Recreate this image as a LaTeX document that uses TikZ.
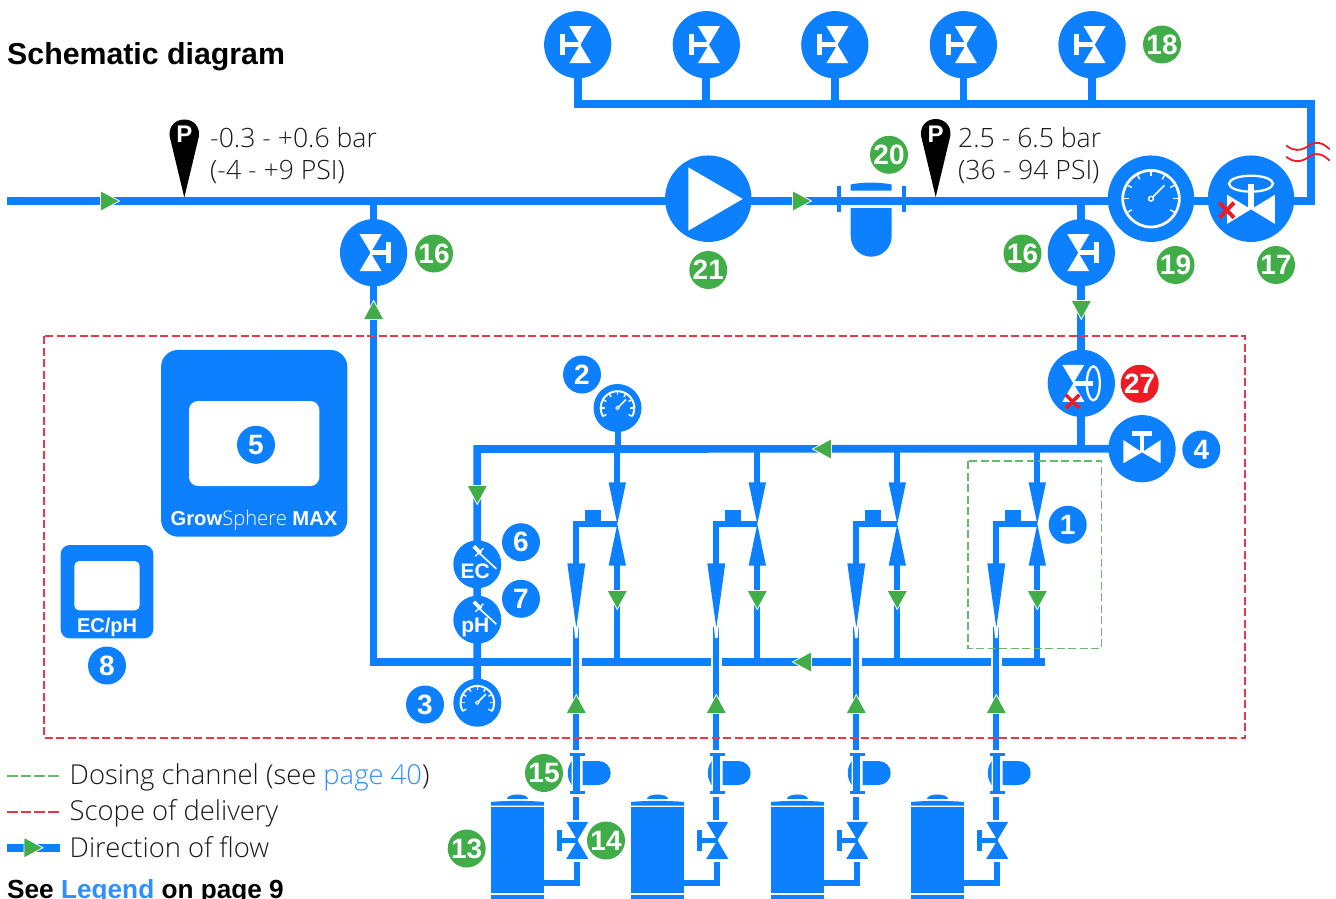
\documentclass[tikz,border=0pt]{standalone}
\usepackage{fontspec}
\setmainfont{Liberation Sans}
\newfontfamily\lightf{Open Sans Light}
\usetikzlibrary{backgrounds}
\definecolor{pblue}{HTML}{0D80FF}
\definecolor{lblue}{HTML}{2E8FFF}
\definecolor{fgreen}{HTML}{41AD49}
\definecolor{dgreen}{HTML}{66BB6A}
\definecolor{xred}{HTML}{ED1C24}
\definecolor{dred}{HTML}{E8394A}
\definecolor{ink}{HTML}{1A1A1A}
\tikzset{
  pipe/.style={draw=pblue,line width=7.7pt},
  thinpipe/.style={draw=pblue,line width=6pt},
  vcirc/.style={circle,fill=pblue,inner sep=0pt,minimum size=67.2pt},
  bigcirc/.style={circle,fill=pblue,inner sep=0pt,minimum size=86.5pt},
  smallcirc/.style={circle,fill=pblue,inner sep=0pt,minimum size=48pt},
  badge/.style={circle,inner sep=0pt,minimum size=38pt,text=white,font=\bfseries\fontsize{28}{28}\selectfont},
  gbadge/.style={badge,fill=fgreen},
  bbadge/.style={badge,fill=pblue},
  rbadge/.style={badge,fill=xred},
  flowarrow/.style={fill=fgreen,draw=white,line width=.8pt,miter limit=10},
  lighttext/.style={anchor=base west,inner sep=0pt,text=ink,font=\lightf\fontsize{26.6}{26.6}\selectfont},
  legtext/.style={anchor=base west,inner sep=0pt,text=ink,font=\lightf\fontsize{27.4}{27.4}\selectfont},
  boldtext/.style={anchor=base west,inner sep=0pt,text=black,font=\bfseries\fontsize{30.3}{30.3}\selectfont},
  scopebox/.style={draw=dred,line width=1.2pt,dash pattern=on 8pt off 3.5pt},
  dosebox/.style={draw=dgreen,line width=1.2pt,dash pattern=on 8pt off 3.5pt},
  xmark/.style={draw=xred,line width=4pt},
  breakmark/.style={draw=xred,line width=1.8pt,line cap=round},
}
% hourglass valve, centred on the current origin; #1 colour
\newcommand\hourglass[1]{%
  \fill[#1] (-11,-18.5)--(11,-18.5)--(0,0)--(11,18.5)--(-11,18.5)--(0,0)--cycle;}
\newcommand\handvalve[3]{% place, xscale, colour
  \begin{scope}[shift={(#1)},xscale=#2]
    \hourglass{#3}
    \fill[#3] (-20.3,-10.3) rectangle (-15.3,10.3);
    \fill[#3] (-15.3,-2.3) rectangle (0.5,2.3);
  \end{scope}}
\newcommand\flowmark[2]{\path[flowarrow,shift={(#1)},rotate=#2] (-9.5,-10.3)--(9.5,0)--(-9.5,10.3)--cycle;}
\newcommand\dialticks[4]{% place, ring radius, tick length, needle length
  \begin{scope}[shift={(#1)}]
    \foreach \a in {-30,0,...,210}
      \draw[white,line width=1.4pt] (-\a:#2) -- (-\a:#2-#3);
    \draw[white,line width=1.5pt] (0,0) -- (-45:#4) ;
  \end{scope}}
\begin{document}
\begin{tikzpicture}[x=1pt,y=-1pt]
\useasboundingbox (0,0) rectangle (1336,899);

% ---------- legend key lines
\coordinate (lg3a) at (7,847.7); \coordinate (lg3b) at (60,847.7);
\foreach \dx in {7,20.7,34.4,48.1}{
  \fill[dgreen] (\dx,775) rectangle (\dx+10.5,776.5);
  \fill[dred] (\dx,811) rectangle (\dx+10.5,812.5);
}

% ---------- nodes
\foreach \n/\x in {a/577.7,b/706.3,c/834.8,d/963.4,e/1092}
  \node[vcirc] (top\n) at (\x,44.7) {};
\node[bigcirc] (pump) at (708.3,198.7) {};
\node[bigcirc] (dial19) at (1151,198.7) {};
\node[bigcirc] (v17) at (1251,198.7) {};
\node[vcirc] (v16a) at (373.6,252.7) {};
\node[vcirc] (v16b) at (1081.3,252.7) {};
\node[vcirc] (v27) at (1081.3,383.3) {};
\node[vcirc] (v4) at (1142,448.7) {};
\node[smallcirc] (g2) at (617.5,408) {};
\node[smallcirc] (g3) at (477.3,702.7) {};
\node[smallcirc] (ec) at (477.3,564.3) {};
\node[smallcirc] (ph) at (477.3,619.7) {};
\coordinate (inlet) at (7,201);
\coordinate (mainE) at (1311,201);
\coordinate (topE) at (1311,104);
\coordinate (hdrL) at (477.3,449);
\coordinate (retL) at (373.6,661.7);
\coordinate (retR) at (1045,661.7);

% ---------- pipes
\begin{pgfonlayer}{background}
  \draw[pipe] (inlet) -- (mainE) -- (topE) -- (topa |- topE) -- (topa.center);
  \foreach \n in {b,c,d,e} \draw[pipe] (top\n.center) -- (top\n |- topE);
  \draw[pipe] (v16a |- inlet) -- (v16a.center) -- (retL) -- (retR);
  \draw[pipe] (v16b |- inlet) -- (v16b.center) -- (v27.center) -- (v27 |- hdrL);
  \draw[pipe] (v4.center) -- (hdrL) -- (g3.center);
  \draw[thinpipe] (g2.center) -- (g2 |- hdrL);
\end{pgfonlayer}

% ---------- four dosing channels
\foreach \i in {0,1,2,3}{
\begin{scope}[xshift=140*\i pt]
  \coordinate (hd\i) at (617.3,449);
  \coordinate (vu\i) at (617.3,484);
  \coordinate (vt\i) at (617.3,524);
  \coordinate (vl\i) at (617.3,564);
  \coordinate (rt\i) at (617.3,661.7);
  \coordinate (sd\i) at (576.3,524);
  \coordinate (se\i) at (576.3,565);
  \coordinate (sb\i) at (576.3,796.7);
  \coordinate (sf\i) at (576.3,750);
  \coordinate (sc\i) at (576.3,627);
  \node[fill=pblue,inner sep=0pt,minimum width=53pt,minimum height=86pt] (tank\i) at (517.5,850.3) {};
  \coordinate (mv\i) at (577.3,840.3);
  \coordinate (el\i) at (577.3,882.7);
  \coordinate (me\i) at (577.3,861.7);
  \begin{pgfonlayer}{background}
    \draw[thinpipe] (hd\i) -- (vu\i);
    \draw[thinpipe] (vl\i) -- (rt\i);
    \draw[thinpipe] (vt\i) -- (sd\i) -- (se\i);
    \fill[white] (571.3,656) rectangle (582.3,667);
    \draw[thinpipe] (sc\i) -- (sf\i);
    \draw[thinpipe] (sf\i |- 0,796.7) -- (sf\i |- 0,820);
    \draw[thinpipe] (tank\i.east |- el\i) -- (el\i) -- (me\i);
  \end{pgfonlayer}
  % venturi
  \fill[pblue] (608.6,482.3)--(626,482.3)--(vt\i)--cycle;
  \fill[pblue] (608.6,565.7)--(626,565.7)--(vt\i)--cycle;
  \fill[pblue] (585,510) rectangle (601,521.5);
  \fill[pblue] (567.3,563.3)--(585.3,563.3)--(576.3,628)--cycle;
  \fill[white] (574,626.5)--(578.6,626.5)--(577.6,638)--(575,638)--cycle;
  \flowmark{617.3,600}{-90}
  \flowmark{576.3,704}{90}
  % filter on the dosing line
  \fill[pblue] (573.3,753) rectangle (579.9,793);
  \fill[pblue] (570,753) rectangle (585,755.7);
  \fill[pblue] (570,791) rectangle (585,793.7);
  \fill[pblue] (582.7,761) -- (598.7,761) arc[start angle=90,end angle=-90,radius=12pt] -- (582.7,785) -- cycle;
  \fill[pblue] (571.7,761) .. controls (566.5,768) and (566.5,778) .. (571.7,785) -- cycle;
  % dosing valve
  \handvalve{mv\i}{1}{pblue}
  % tank
  \fill[white] (491,805.2) rectangle (544,807.3);
  \fill[pblue] (491,805.5) -- (491,802) .. controls (505,800.5) and (530,800.5) .. (544,802) -- (544,805.5) -- cycle;
  \fill[pblue] (506.7,799.3) .. controls (506.7,793) and (528.3,793) .. (528.3,799.3) -- cycle;
  \fill[white] (491,893.3) rectangle (544,895);
  \fill[pblue] (491,895) rectangle (544,899);
\end{scope}
}

% ---------- top valves
\foreach \n in {a,b,c,d,e}{
  \begin{scope}[shift={(top\n.center)}]\handvalve{2.6,0}{1}{white}\end{scope}
}
% 16 valves
\begin{scope}[shift={(v16a.center)}]\handvalve{-3,0}{-1}{white}\end{scope}
\begin{scope}[shift={(v16b.center)}]\handvalve{-3,0}{-1}{white}\end{scope}

% pump
\fill[white] (688.3,167.3)--(742.7,199)--(688.3,230.7)--cycle;

% filter 20
\fill[pblue] (837.3,185.7) rectangle (841.3,212);
\fill[pblue] (902,185.7) rectangle (906,212);
\fill[pblue] (850.7,190.7) -- (850.7,184.5) .. controls (862,182) and (880,182) .. (891.7,184.5) -- (891.7,190.7) -- cycle;
\fill[pblue] (850.7,208) -- (891.7,208) -- (891.7,236.2) arc[start angle=0,end angle=-180,radius=20.5pt] -- cycle;

% pressure pins
\node[inner sep=0pt,text=white,font=\bfseries\fontsize{24}{24}\selectfont] (pin1) at (184.3,134.5) {P};
\node[inner sep=0pt,text=white,font=\bfseries\fontsize{24}{24}\selectfont] (pin2) at (935.7,134) {P};
\begin{pgfonlayer}{background}
\foreach \p in {pin1,pin2}{
  \begin{scope}[shift={(\p.center)}]
  \fill[black] (0,63) -- (-14.6,2) .. controls (-16,-8) and (-9,-15) .. (0,-15)
     .. controls (9,-15) and (16,-8) .. (14.6,2) -- cycle;
  \end{scope}
}
\end{pgfonlayer}
\node[lighttext] (p1a) at (210,147) {-0.3 - +0.6 bar};
\node[lighttext] (p1b) at (210,179) {(-4 - +9 PSI)};
\node[lighttext] (p2a) at (958,147) {2.5 - 6.5 bar};
\node[lighttext] (p2b) at (958,179) {(36 - 94 PSI)};

% big dial 19
\draw[white,line width=2.7pt] (dial19.center) circle[radius=28.3pt];
\dialticks{dial19.center}{28.3}{6}{19}
\draw[white,line width=1.4pt,fill=pblue] (dial19.center) circle[radius=2.4pt];

% valve 17
\begin{scope}[shift={(v17.center)}]
  \fill[white] (0,10.6)--(-23.8,-3.9)--(-23.8,25.1)--cycle;
  \fill[white] (0,10.6)--(23.8,-3.9)--(23.8,25.1)--cycle;
  \fill[white] (-2.6,-15) rectangle (2.6,10.6);
  \draw[white,line width=2.3pt] (0,-15) ellipse[x radius=22pt,y radius=8pt];
  \draw[xmark] (-31.5,4) -- (-17,19) (-17,4) -- (-31.5,19);
\end{scope}

% valve 27
\begin{scope}[shift={(v27.center)}]
  \begin{scope}[shift={(-8,0)}]\hourglass{white}\end{scope}
  \fill[white] (-8,-2.4) rectangle (12,2.4);
  \draw[white,line width=2.3pt] (12,0) ellipse[x radius=6.5pt,y radius=17pt];
  \draw[xmark,line width=3.4pt] (-15.5,11.5) -- (-2,25) (-2,11.5) -- (-15.5,25);
\end{scope}

% valve 4
\begin{scope}[shift={(v4.center)}]
  \fill[white] (0,3.6)--(-18.7,-8.7)--(-18.7,14.6)--cycle;
  \fill[white] (0,3.6)--(18.7,-8.7)--(18.7,14.6)--cycle;
  \fill[white] (-2.3,-14) rectangle (2.3,3.6);
  \fill[white] (-10,-17.7) rectangle (10,-12.7);
\end{scope}

% small dials
\begin{scope}[shift={(g2.center)}]
  \draw[white,line width=2pt,y=1pt] (-30:16.8) arc[start angle=-30,end angle=210,radius=16.8pt];
\end{scope}
\begin{scope}[shift={(g3.center)}]
  \draw[white,line width=2pt,y=1pt] (-30:16.8) arc[start angle=-30,end angle=210,radius=16.8pt];
\end{scope}
\dialticks{g2.center}{16.8}{4}{12}
\dialticks{g3.center}{16.8}{4}{12}
\draw[white,line width=1pt,fill=pblue] (g2.center) circle[radius=1.7pt];
\draw[white,line width=1pt,fill=pblue] (g3.center) circle[radius=1.7pt];

% sensors
\foreach \s/\t/\dy in {ec/EC/7,ph/pH/7.7}{
  \begin{scope}[shift={(\s.center)}]
    \draw[white,line width=1.6pt] (-1,-14) -- (19,4.5);
    \draw[white,line width=3.6pt] (-3.5,-18) -- (3.5,-11);
    \draw[white,line width=1.4pt] (-2,-8) -- (6,-16);
    \node[inner sep=0pt,text=white,font=\bfseries\fontsize{21}{21}\selectfont] (lab\s) at (-2,\dy) {\t};
  \end{scope}
}

% controllers
\node[fill=pblue,rounded corners=17pt,inner sep=0pt,minimum width=186.3pt,minimum height=186.7pt] (ctrl) at (254.2,443.3) {};
\node[fill=white,rounded corners=9pt,inner sep=0pt,minimum width=130.3pt,minimum height=85pt] (scr) at (254.2,443.5) {};
\node[anchor=base,inner sep=0pt,text=white,font=\fontsize{20.2}{20.2}\selectfont] (brand) at (254,525) {\textbf{Grow}{\lightf Sphere} \textbf{MAX}};
\node[fill=pblue,rounded corners=9pt,inner sep=0pt,minimum width=92.6pt,minimum height=93.3pt] (ecbox) at (107,591.7) {};
\node[fill=white,rounded corners=5pt,inner sep=0pt,minimum width=65.4pt,minimum height=49.3pt] (ecscr) at (107,585.7) {};
\node[anchor=base,inner sep=0pt,text=white,font=\bfseries\fontsize{20}{20}\selectfont] (eclab) at (107,632) {EC/pH};

% dashed frames
\draw[scopebox] (44,336) rectangle (1245,738);
\draw[dosebox] (968,461) rectangle (1101.3,648.5);

% flow arrows
\flowmark{110,201}{0}
\flowmark{802,201}{0}
\flowmark{373.6,310}{90}
\flowmark{1081.3,310}{-90}
\flowmark{822,449}{180}
\flowmark{477.3,495}{-90}
\flowmark{802,662}{180}

% break marks
\foreach \d in {0,11.3}{
  \draw[breakmark] (1286.7,145.7+\d) .. controls (1293,151+\d) and (1300,151+\d) .. (1306,147.5+\d) .. controls (1313,142+\d) and (1320,140+\d) .. (1329.3,149+\d);
}

% badges
\node[gbadge] (n18) at (1162,44.5) {18};
\node[gbadge] (n16a) at (434,253.5) {16};
\node[gbadge] (n16b) at (1022.5,253.5) {16};
\node[gbadge] (n20) at (889,154.8) {20};
\node[gbadge] (n19) at (1175.5,265) {19};
\node[gbadge] (n17) at (1276,265) {17};
\node[gbadge] (n21) at (708.3,270) {21};
\node[gbadge] (n15) at (544,773) {15};
\node[gbadge] (n14) at (606,840.5) {14};
\node[gbadge] (n13) at (466.7,848.5) {13};
\node[rbadge] (n27) at (1139.7,383.8) {27};
\node[bbadge] (n4) at (1201.3,449.5) {4};
\node[bbadge] (n1) at (1067.7,524.8) {1};
\node[bbadge] (n2) at (582,374.5) {2};
\node[bbadge] (n3) at (425,704.5) {3};
\node[bbadge] (n6) at (521,542.2) {6};
\node[bbadge] (n7) at (521,598.8) {7};
\node[bbadge] (n5) at (256,444.8) {5};
\node[bbadge] (n8) at (107,665.5) {8};

% title and legend
\node[boldtext] (title) at (7,65) {Schematic diagram};
\draw[pipe] (lg3a) -- (lg3b);
\flowmark{33.5,847.7}{0}
\node[legtext] (t1) at (69.5,784) {Dosing channel (see \textcolor{lblue}{page 40})};
\node[legtext] (t2) at (69.5,820.7) {Scope of delivery};
\node[legtext] (t3) at (69.5,857.3) {Direction of flow};
\node[anchor=base west,inner sep=0pt,text=black,font=\bfseries\fontsize{26.2}{26.2}\selectfont] (t4) at (7,898) {See \textcolor{lblue}{Legend} on page 9};
\end{tikzpicture}
\end{document}
